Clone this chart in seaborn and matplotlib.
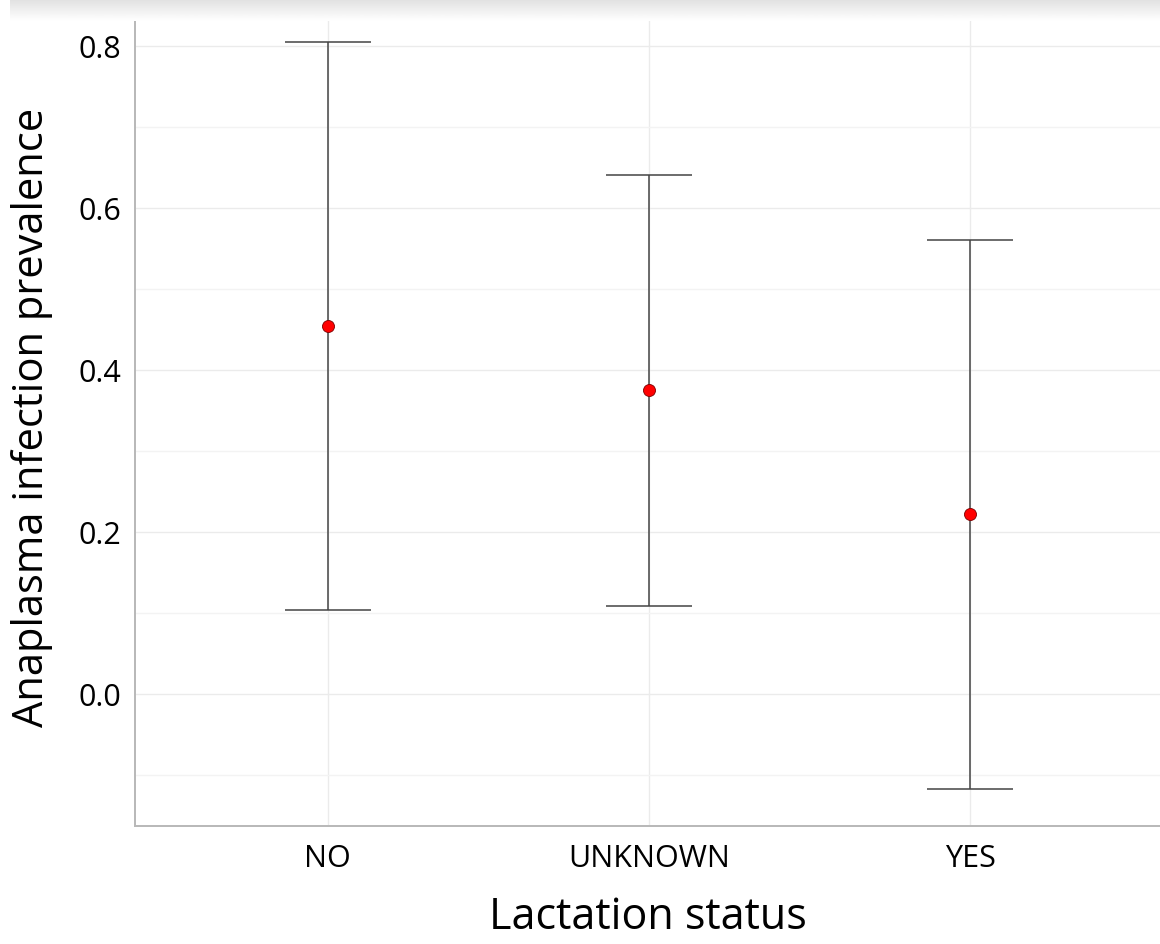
import numpy as np
import pandas as pd
import matplotlib
matplotlib.use('Agg')
import matplotlib.pyplot as plt
import seaborn as sns

# ── data ──────────────────────────────────────────────────────────────────────
status = ['NO', 'UNKNOWN', 'YES']
prevalence = [0.454, 0.375, 0.222]
ci_low = [0.104, 0.109, -0.117]
ci_high = [0.805, 0.641, 0.560]

df = pd.DataFrame({'status': status, 'prev': prevalence,
                   'low': ci_low, 'high': ci_high})

# ── style ─────────────────────────────────────────────────────────────────────
sns.set_theme(style='white')
plt.rcParams['font.family'] = ['Open Sans', 'DejaVu Sans']

fig = plt.figure(figsize=(11.6, 9.45), dpi=100)
ax = fig.add_axes([135 / 1160, 1 - 827 / 945, 1 - 135 / 1160, (827 - 7) / 945])

ax.set_ylim(-0.163, 0.849)
ax.set_xlim(-0.6, 2.59)
ax.set_yticks([0.0, 0.2, 0.4, 0.6, 0.8])
ax.set_yticks([-0.1, 0.1, 0.3, 0.5, 0.7], minor=True)
ax.grid(True, which='major', color='#ebebeb', linewidth=1.0)
ax.grid(True, which='minor', axis='y', color='#f3f3f3', linewidth=1.0)
ax.set_axisbelow(True)

ax.errorbar(df['status'], df['prev'],
            yerr=[df['prev'] - df['low'], df['high'] - df['prev']],
            fmt='none', ecolor='#444444', elinewidth=1.1,
            capsize=31, capthick=1.1, zorder=2)
sns.scatterplot(data=df, x='status', y='prev', ax=ax, color='#ff0000',
                edgecolor='#7a0000', linewidth=0.6, s=75, zorder=3)

ax.set_yticklabels(['0.0', '0.2', '0.4', '0.6', '0.8'])
ax.set_xlabel('Lactation status', fontsize=31, labelpad=16, color='black')
ax.set_ylabel('Anaplasma infection prevalence', fontsize=30, labelpad=18,
              color='black')
ax.tick_params(axis='both', which='major', labelsize=22, length=4,
               color='#999999', width=1.0, labelcolor='black')
ax.tick_params(axis='y', which='minor', length=0)
ax.tick_params(axis='x', pad=8)
ax.tick_params(axis='y', pad=6)

for side in ['top', 'right']:
    ax.spines[side].set_visible(False)
for side in ['left', 'bottom']:
    ax.spines[side].set_color('#b8b8b8')
    ax.spines[side].set_linewidth(1.4)

# faint shadow band across the top
shade = fig.add_axes([10 / 1160, 1 - 22 / 945, 1 - 10 / 1160, 22 / 945])
grad = np.linspace(0.88, 1.0, 50).reshape(-1, 1)
shade.imshow(grad, cmap='gray', vmin=0, vmax=1, aspect='auto')
shade.axis('off')

fig.savefig('out.png', dpi=100)
